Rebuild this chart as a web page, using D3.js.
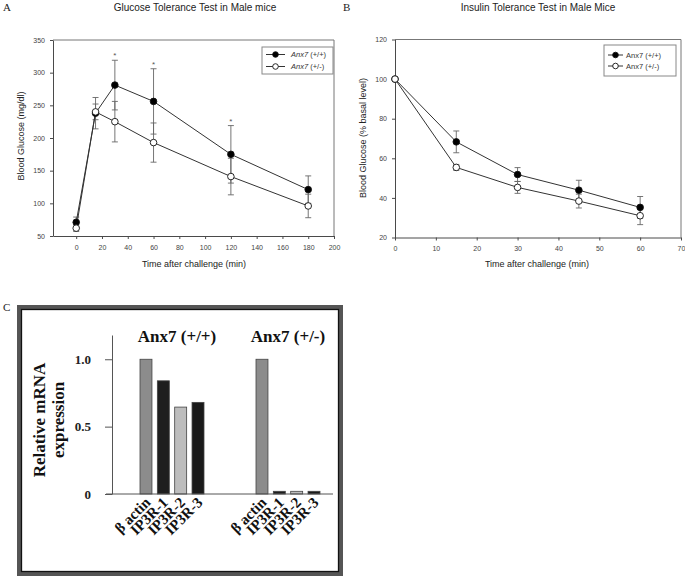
<!DOCTYPE html>
<html><head><meta charset="utf-8">
<script src="https://cdn.jsdelivr.net/npm/d3@7"></script>
<style>
body{margin:0;background:#fff;}
svg{display:block;}
</style></head>
<body>
<svg id="c" width="685" height="577"></svg>
<script>
// ---------- Panel A data (Glucose tolerance) ----------
const timeA = [0, 15, 30, 60, 120, 180];
const gttWT = [71, 238, 281, 256, 175, 121];
const gttWTerr = [8, 24, 38, 50, 44, 21];
const gttHet = [62, 240, 225, 193, 141, 96];
const gttHetErr = [5, 12, 31, 30, 28, 18];
const gttSig = [false, false, true, true, true, false];
const ticksAx = [0, 20, 40, 60, 80, 100, 120, 140, 160, 180, 200];
const ticksAy = [50, 100, 150, 200, 250, 300, 350];

// ---------- Panel B data (Insulin tolerance) ----------
const timeB = [0, 15, 30, 45, 60];
const ittWT = [100, 68.3, 51.8, 43.9, 35.2];
const ittWTerr = [0, 5.5, 3.5, 5, 5.5];
const ittHet = [100, 55.4, 45.3, 38.4, 31];
const ittHetErr = [0, 1.5, 3, 3.5, 4.5];
const ticksBx = [0, 10, 20, 30, 40, 50, 60, 70];
const ticksBy = [20, 40, 60, 80, 100, 120];

// ---------- Panel C data (mRNA expression) ----------
const groupsC = ["Anx7 (+/+)", "Anx7 (+/-)"];
const genesC = ["β actin", "IP3R-1", "IP3R-2", "IP3R-3"];
const exprWT = [1.0, 0.84, 0.645, 0.68];
const exprHet = [1.0, 0.02, 0.02, 0.02];
const ticksCy = [0, 0.5, 1.0];

const seriesNames = ["Anx7 (+/+)", "Anx7 (+/-)"];

const svg = d3.select("#c");
const SANS = "Liberation Sans, Arial, sans-serif";
const SERIF = "Liberation Serif, Times New Roman, serif";
const INK = "#4a4a4a";

function linePanel(opts) {
  const g = svg.append("g");
  const x = d3.scaleLinear().domain(opts.xDomain).range(opts.xRange);
  const y = d3.scaleLinear().domain(opts.yDomain).range(opts.yRange);
  // frame top/right
  g.append("line").attr("x1", opts.xRange[0]).attr("x2", opts.xRange[1])
    .attr("y1", opts.yRange[1]).attr("y2", opts.yRange[1]).attr("stroke", "#777").attr("stroke-width", 1);
  g.append("line").attr("x1", opts.xRange[1]).attr("x2", opts.xRange[1])
    .attr("y1", opts.yRange[0]).attr("y2", opts.yRange[1]).attr("stroke", "#777").attr("stroke-width", 1);
  const ax = g.append("g").attr("transform", `translate(0,${opts.yRange[0]})`)
    .call(d3.axisBottom(x).tickValues(opts.xTicks).tickSize(3).tickSizeOuter(0).tickPadding(6).tickFormat(d3.format("d")));
  const ay = g.append("g").attr("transform", `translate(${opts.xRange[0]},0)`)
    .call(d3.axisLeft(y).tickValues(opts.yTicks).tickSize(3).tickSizeOuter(0).tickPadding(5).tickFormat(d3.format("d")));
  [ax, ay].forEach(a => {
    a.select(".domain").attr("stroke", INK);
    a.selectAll(".tick line").attr("stroke", INK);
    a.selectAll("text").attr("font-family", SANS).attr("font-size", 7).attr("fill", "#444");
  });
  // series
  const series = [
    {vals: opts.wt, err: opts.wtErr, fill: "#000"},
    {vals: opts.het, err: opts.hetErr, fill: "#fff"}
  ];
  const capW = 3;
  series.forEach(s => {
    const pts = opts.t.map((t, i) => ({t, v: s.vals[i], e: s.err[i]}));
    const eb = g.append("g").attr("stroke", "#666").attr("stroke-width", 0.9);
    pts.filter(p => p.e > 0).forEach(p => {
      eb.append("line").attr("x1", x(p.t)).attr("x2", x(p.t)).attr("y1", y(p.v - p.e)).attr("y2", y(p.v + p.e));
      [p.v - p.e, p.v + p.e].forEach(v => {
        eb.append("line").attr("x1", x(p.t) - capW).attr("x2", x(p.t) + capW).attr("y1", y(v)).attr("y2", y(v));
      });
    });
  });
  series.forEach(s => {
    const pts = opts.t.map((t, i) => ({t, v: s.vals[i]}));
    g.append("path").datum(pts).attr("fill", "none").attr("stroke", "#333").attr("stroke-width", 1)
      .attr("d", d3.line().x(d => x(d.t)).y(d => y(d.v)));
  });
  series.forEach(s => {
    const pts = opts.t.map((t, i) => ({t, v: s.vals[i]}));
    g.selectAll(null).data(pts).enter().append("circle")
      .attr("cx", d => x(d.t)).attr("cy", d => y(d.v)).attr("r", 3.3)
      .attr("fill", s.fill).attr("stroke", "#111").attr("stroke-width", 0.9);
  });
  if (opts.sig) {
    opts.t.forEach((t, i) => {
      if (!opts.sig[i]) return;
      const top = Math.max(opts.wt[i] + opts.wtErr[i], opts.het[i] + opts.hetErr[i]);
      g.append("text").attr("x", x(t)).attr("y", y(top) - 2).attr("text-anchor", "middle")
        .attr("font-family", SANS).attr("font-size", 8).attr("fill", "#555").text("*");
    });
  }
  // legend
  const L = opts.legend;
  g.append("rect").attr("x", L.x).attr("y", L.y).attr("width", L.w).attr("height", L.h)
    .attr("fill", "#fff").attr("stroke", "#888").attr("stroke-width", 1);
  seriesNames.forEach((name, i) => {
    const yy = L.y + L.row0 + i * L.dy;
    g.append("line").attr("x1", L.x + L.lx0).attr("x2", L.x + L.lx1).attr("y1", yy).attr("y2", yy)
      .attr("stroke", "#333").attr("stroke-width", 1);
    g.append("circle").attr("cx", L.x + (L.lx0 + L.lx1) / 2).attr("cy", yy).attr("r", 2.8)
      .attr("fill", series[i].fill).attr("stroke", "#111").attr("stroke-width", 0.9);
    const tx = g.append("text").attr("x", L.x + L.tx).attr("y", yy + 2.6)
      .attr("font-family", SANS).attr("font-size", 7.5).attr("fill", "#333");
    if (opts.italic) {
      tx.append("tspan").attr("font-style", "italic").text("Anx7");
      tx.append("tspan").text(name.replace("Anx7", ""));
    } else tx.text(name);
  });
  // titles and labels
  svg.append("text").attr("x", opts.titleX).attr("y", 11).attr("text-anchor", "middle")
    .attr("font-family", SANS).attr("font-size", 10).attr("fill", "#222").text(opts.title);
  svg.append("text").attr("x", opts.letterX).attr("y", 11)
    .attr("font-family", SERIF).attr("font-size", 11).attr("fill", "#222").text(opts.letter);
  svg.append("text").attr("x", (x.range()[0] + x.range()[1]) / 2 + opts.xlabDx).attr("y", 267).attr("text-anchor", "middle")
    .attr("font-family", SANS).attr("font-size", 9).attr("fill", "#222").text("Time after challenge (min)");
  svg.append("text").attr("transform", `translate(${opts.ylabX},${opts.ylabY}) rotate(-90)`).attr("text-anchor", "middle")
    .attr("font-family", SANS).attr("font-size", 9).attr("fill", "#222").text(opts.ylab);
}

linePanel({
  xDomain: [-18, 200], xRange: [53, 334], yDomain: [50, 350], yRange: [236, 40],
  xTicks: ticksAx, yTicks: ticksAy, t: timeA,
  wt: gttWT, wtErr: gttWTerr, het: gttHet, hetErr: gttHetErr, sig: gttSig,
  legend: {x: 262, y: 47, w: 71, h: 27, row0: 7.5, dy: 12, lx0: 4, lx1: 23, tx: 29},
  italic: true,
  title: "Glucose Tolerance Test in Male mice", titleX: 195, letter: "A", letterX: 3,
  xlabDx: 0.5, ylab: "Blood Glucose (mg/dl)", ylabX: 24, ylabY: 136
});

linePanel({
  xDomain: [0, 70], xRange: [395, 681], yDomain: [20, 120], yRange: [237.5, 39.5],
  xTicks: ticksBx, yTicks: ticksBy, t: timeB,
  wt: ittWT, wtErr: ittWTerr, het: ittHet, hetErr: ittHetErr, sig: null,
  legend: {x: 604, y: 45, w: 72, h: 31, row0: 10, dy: 11, lx0: 4, lx1: 19, tx: 22},
  italic: false,
  title: "Insulin Tolerance Test in Male Mice", titleX: 538, letter: "B", letterX: 343,
  xlabDx: -1, ylab: "Blood Glucose (% basal level)", ylabX: 366, ylabY: 138
});

// ---------- Panel C ----------
(function () {
  const g = svg.append("g");
  svg.append("text").attr("x", 3).attr("y", 311).attr("font-family", SERIF).attr("font-size", 11)
    .attr("fill", "#222").text("C");
  g.append("rect").attr("x", 19).attr("y", 307).attr("width", 322).attr("height", 267)
    .attr("fill", "none").attr("stroke", "#555").attr("stroke-width", 4);
  g.append("rect").attr("x", 21.5).attr("y", 309.5).attr("width", 317).attr("height", 262)
    .attr("fill", "none").attr("stroke", "#111").attr("stroke-width", 1.3);

  const y = d3.scaleLinear().domain([0, 1.18]).range([494, 335]);
  const x0 = d3.scaleBand().domain(groupsC).range([114, 346]);
  const x1 = d3.scaleBand().domain(genesC).range([26, 90]).paddingInner(0.31).paddingOuter(0);
  const colors = ["#8c8c8c", "#1e1e1e", "#bdbdbd", "#1a1a1a"];
  const data = [exprWT, exprHet];

  const ay = g.append("g").attr("transform", "translate(112,0)")
    .call(d3.axisLeft(y).tickValues(ticksCy).tickSize(7).tickSizeOuter(0).tickPadding(14)
      .tickFormat(d => d === 0 ? "0" : d3.format(".1f")(d)));
  ay.select(".domain").attr("stroke", "#555");
  ay.selectAll(".tick line").attr("stroke", "#555");
  ay.selectAll("text").attr("font-family", SERIF).attr("font-weight", "bold").attr("font-size", 13).attr("fill", "#222");

  groupsC.forEach((grp, gi) => {
    const gx = x0(grp);
    g.selectAll(null).data(genesC).enter().append("rect")
      .attr("x", d => gx + x1(d)).attr("width", x1.bandwidth())
      .attr("y", (d, i) => y(data[gi][i])).attr("height", (d, i) => y(0) - y(data[gi][i]))
      .attr("fill", (d, i) => colors[i]).attr("stroke", "#444").attr("stroke-width", 0.8);
    g.append("text").attr("x", gx + x0.bandwidth() / 2 + (gi === 0 ? 5 : 0)).attr("y", 342).attr("text-anchor", "middle")
      .attr("font-family", SERIF).attr("font-weight", "bold").attr("font-size", 17).attr("fill", "#111").text(grp);
    genesC.forEach(gene => {
      const cx = gx + x1(gene) + x1.bandwidth() / 2;
      g.append("text").attr("transform", `translate(${cx + 3},${y(0) + 7}) rotate(-45)`).attr("text-anchor", "end")
        .attr("dominant-baseline", "middle")
        .attr("font-family", SERIF).attr("font-weight", "bold").attr("font-size", 15).attr("fill", "#111").text(gene);
    });
  });
  g.append("line").attr("x1", 106).attr("x2", 333).attr("y1", y(0)).attr("y2", y(0))
    .attr("stroke", "#555").attr("stroke-width", 1);

  const yl = g.append("text").attr("transform", "translate(0,420) rotate(-90)").attr("text-anchor", "middle")
    .attr("font-family", SERIF).attr("font-weight", "bold").attr("font-size", 17).attr("fill", "#111");
  yl.append("tspan").attr("x", 0).attr("y", 45).text("Relative mRNA");
  yl.append("tspan").attr("x", 0).attr("y", 64).text("expression");
})();
</script>
</body></html>
